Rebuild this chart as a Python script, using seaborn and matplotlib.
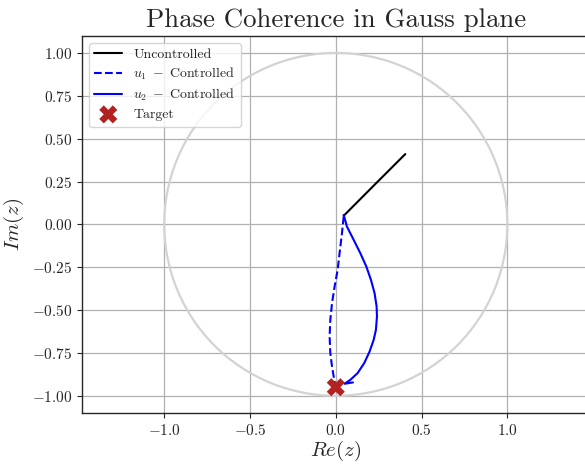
import numpy as np
import pandas as pd
import matplotlib
matplotlib.use('Agg')
import matplotlib.pyplot as plt
import seaborn as sb

# Trajectories in the complex plane
unc_re = [0.405, 0.23, 0.046]
unc_im = [0.41, 0.235, 0.05]

u1_re = [0.046, 0.036, 0.022, 0.011, -0.007, -0.022, -0.032, -0.036, -0.032, -0.022, -0.009, -0.003]
u1_im = [0.045, -0.051, -0.168, -0.265, -0.363, -0.460, -0.557, -0.654, -0.751, -0.829, -0.907, -0.936]

u2_re = [0.046, 0.065, 0.104, 0.143, 0.178, 0.205, 0.226, 0.238, 0.240, 0.234,
         0.221, 0.197, 0.166, 0.127, 0.085, 0.051, 0.100]
u2_im = [0.055, -0.013, -0.090, -0.168, -0.246, -0.324, -0.401, -0.479, -0.538, -0.615,
         -0.673, -0.742, -0.809, -0.868, -0.907, -0.930, -0.922]

target_re = [0.0]
target_im = [-0.95]

sb.set_style('ticks')
plt.rcParams['font.family'] = 'serif'
plt.rcParams['font.serif'] = ['cmr10', 'DejaVu Serif']
plt.rcParams['mathtext.fontset'] = 'cm'
plt.rcParams['axes.formatter.use_mathtext'] = True
plt.rcParams['axes.unicode_minus'] = True

fig = plt.figure(figsize=(5.85, 4.65), dpi=100)
ax = fig.add_axes([0.140, 0.112, 0.868, 0.811])

ax.grid(True, color='#b0b0b0', linewidth=0.9)
ax.set_axisbelow(True)

circle = plt.Circle((0, 0), 1.0, fill=False, color='lightgray', linewidth=1.6, zorder=1.5)
ax.add_patch(circle)

unc = pd.DataFrame({'re': unc_re, 'im': unc_im})
u1 = pd.DataFrame({'re': u1_re, 'im': u1_im})
u2 = pd.DataFrame({'re': u2_re, 'im': u2_im})

sb.lineplot(data=unc, x='re', y='im', sort=False, estimator=None, color='black',
            linewidth=1.5, label='Uncontrolled', ax=ax)
sb.lineplot(data=u1, x='re', y='im', sort=False, estimator=None, color='blue',
            linewidth=1.5, linestyle='--', label=r'$u_1\;-\;$Controlled', ax=ax)
sb.lineplot(data=u2, x='re', y='im', sort=False, estimator=None, color='blue',
            linewidth=1.5, label=r'$u_2\;-\;$Controlled', ax=ax)
sb.scatterplot(x=target_re, y=target_im, marker='X', s=170, color='firebrick',
               edgecolor='none', label='Target', zorder=5, ax=ax)

ax.set_xlim(-1.48, 1.48)
ax.set_ylim(-1.1, 1.1)
ax.set_xticks([-1.0, -0.5, 0.0, 0.5, 1.0])
ax.set_yticks([-1.0, -0.75, -0.5, -0.25, 0.0, 0.25, 0.5, 0.75, 1.0])
ax.set_yticklabels(['$-1.00$', '$-0.75$', '$-0.50$', '$-0.25$', '$0.00$',
                    '$0.25$', '$0.50$', '$0.75$', '$1.00$'])
ax.set_xticklabels(['$-1.0$', '$-0.5$', '$0.0$', '$0.5$', '$1.0$'])
ax.tick_params(labelsize=11)
for s in ax.spines.values():
    s.set_visible(True)
    s.set_linewidth(1.0)

ax.set_xlabel(r'$Re(z)$', fontsize=15, labelpad=1)
ax.set_ylabel(r'$Im(z)$', fontsize=15)
ax.set_title('Phase Coherence in Gauss plane', fontsize=19.3)

ax.legend(loc='upper left', fontsize=10, labelspacing=0.35, framealpha=0.8)

fig.savefig('out.png', dpi=100)
